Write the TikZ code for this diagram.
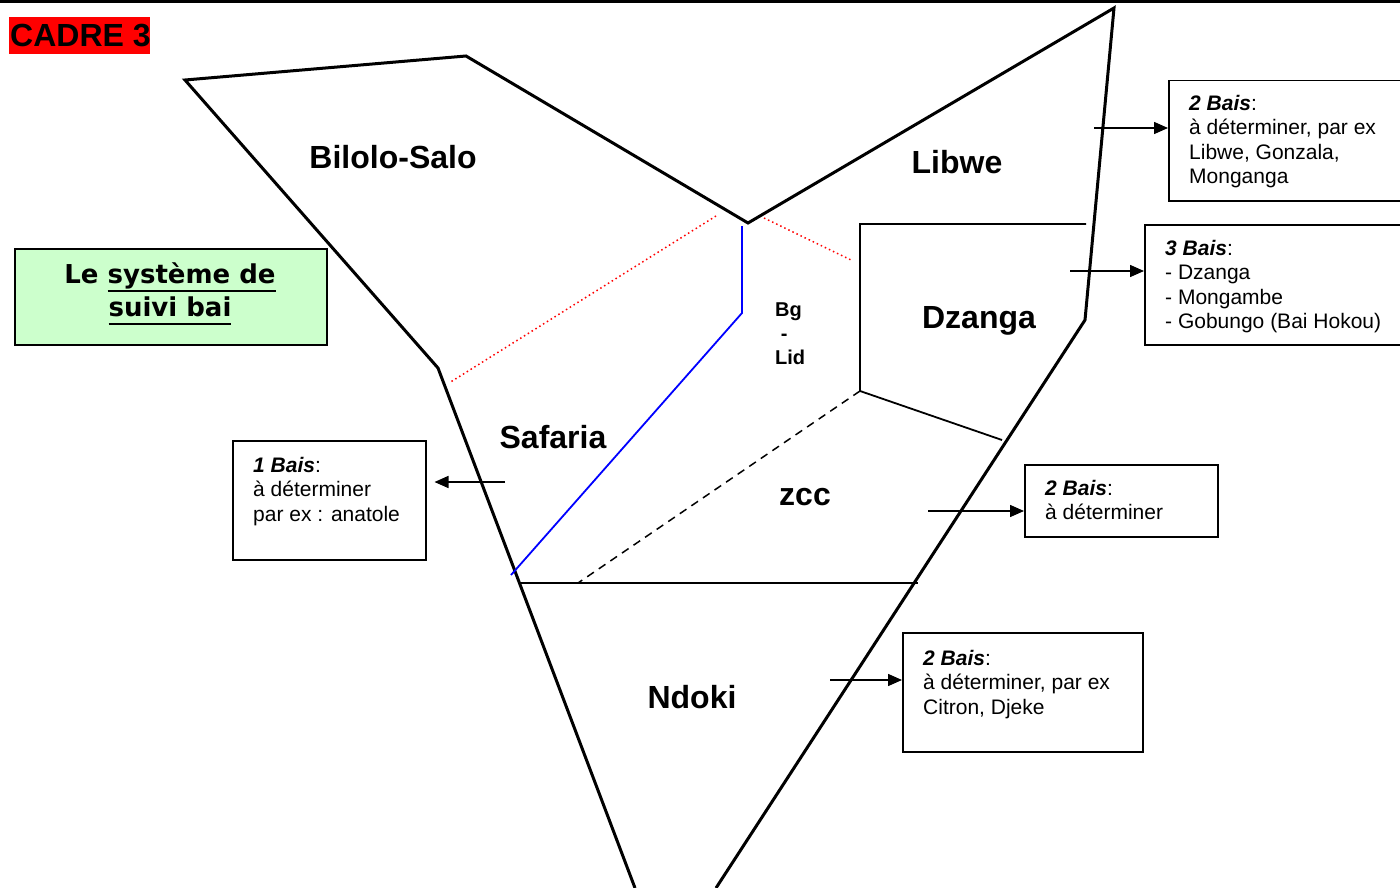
\documentclass[tikz,border=0pt]{standalone}
\usepackage{fontspec}
\setmainfont{Liberation Sans}
\newfontfamily\verd{DejaVu Sans}
\usetikzlibrary{arrows.meta}
\definecolor{cadrered}{RGB}{255,0,0}
\definecolor{palegreen}{RGB}{204,255,204}
\newlength\ulwd
\newcommand\ulword[1]{\settowidth\ulwd{#1}\rlap{\rule[-9pt]{\ulwd}{2pt}}#1}
\begin{document}
\begin{tikzpicture}[x=1pt,y=-1pt,
  border/.style={line width=3pt,line join=miter},
  inner/.style={line width=1.8pt},
  baibox/.style={draw,line width=1.5pt,inner sep=0pt,anchor=north west},
  baitext/.style={align=left,anchor=north west,inner sep=0pt,font=\fontsize{21}{24.5}\selectfont},
  region/.style={anchor=base,inner sep=0pt,font=\fontsize{32}{36}\selectfont\bfseries},
  pointer/.style={-{Triangle[length=14pt,width=12pt]},line width=1.5pt}]
\useasboundingbox (0,0) rectangle (1400,888);
\clip (0,0) rectangle (1400,888);
\fill[white] (0,0) rectangle (1400,888);

% top rule
\draw[line width=3.5pt] (0,1.5) -- (1400,1.5);

% title tag
\node[fill=cadrered,anchor=north west,minimum width=141pt,minimum height=37pt,inner sep=0pt] (tag) at (9,17) {};
\node[anchor=base west,inner sep=0pt,font=\fontsize{32}{36}\selectfont\bfseries] (title) at (10,47) {CADRE 3};

% legend box
\node[baibox,fill=palegreen,line width=2pt,minimum width=312pt,minimum height=96pt] (legend) at (14,248) {};
\node[align=center,inner sep=0pt,anchor=base,font=\verd\fontsize{26}{33}\selectfont\bfseries] (legendtxt) at (170,316)
  {Le \ulword{système de}\\\ulword{suivi bai}};

% zone boundaries
\coordinate (p1) at (185,80);
\coordinate (p2) at (466,56);
\coordinate (v) at (748,223);
\coordinate (p3) at (1114,8);
\coordinate (rk) at (1085,320);
\coordinate (rb) at (716,888);
\coordinate (lk) at (438,368);
\coordinate (lb) at (635,888);
\draw[border] (lb) -- (lk) -- (p1) -- (p2) -- (v) -- (p3) -- (rk) -- (rb);

% Dzanga block
\coordinate (dz1) at (1086,224);
\coordinate (dz2) at (860,224);
\coordinate (dz3) at (860,391);
\coordinate (dz4) at (1002,440);
\draw[inner,line join=miter] (dz1) -- (dz2) -- (dz3) -- (dz4);

% Ndoki limit
\coordinate (nd1) at (520,583);
\coordinate (nd2) at (918,583);
\draw[inner] (nd1) -- (nd2);

% zcc limit
\coordinate (zc) at (578,583);
\draw[line width=1.5pt,dash pattern=on 8pt off 6pt] (dz3) -- (zc);

% blue track
\coordinate (b1) at (742,226);
\coordinate (b2) at (742,313);
\coordinate (b3) at (511,575);
\draw[blue,line width=1.8pt] (b1) -- (b2) -- (b3);

% red dotted limits
\coordinate (r1) at (716,216);
\coordinate (r2) at (449,383);
\coordinate (r3) at (764,218);
\coordinate (r4) at (851,260);
\draw[red,line width=1.5pt,dash pattern=on 1.5pt off 3pt] (r1) -- (r2);
\draw[red,line width=1.5pt,dash pattern=on 1.5pt off 3pt] (r3) -- (r4);

% zone names
\node[region] (bilolo) at (393,168) {Bilolo-Salo};
\node[region] (libwe) at (957,173) {Libwe};
\node[region] (dzanga) at (979,328) {Dzanga};
\node[region] (safaria) at (553,448) {Safaria};
\node[region] (zcc) at (805,505) {zcc};
\node[region] (ndoki) at (692,708) {Ndoki};
\node[align=left,anchor=north west,inner sep=0pt,font=\fontsize{20}{24}\selectfont\bfseries] (bglid) at (775,303)
  {Bg\\\hspace*{5.6pt}-\\Lid};

% bai boxes
\node[baibox,minimum width=240pt,minimum height=120pt] (boxA) at (1168,80) {};
\node[baitext] (txtA) at (1189,95) {\textbf{\textit{2 Bais}}:\\à déterminer, par ex\\Libwe, Gonzala,\\Monganga};

\node[baibox,minimum width=264pt,minimum height=120pt] (boxB) at (1144,224) {};
\node[baitext] (txtB) at (1165,240) {\textbf{\textit{3 Bais}}:\\- Dzanga\\- Mongambe\\- Gobungo (Bai Hokou)};

\node[baibox,minimum width=193pt,minimum height=119pt] (boxC) at (232,440) {};
\node[baitext] (txtC) at (253,457) {\textbf{\textit{1 Bais}}:\\à déterminer\\par ex : anatole};

\node[baibox,minimum width=193pt,minimum height=72pt] (boxD) at (1024,464) {};
\node[baitext] (txtD) at (1045,480) {\textbf{\textit{2 Bais}}:\\à déterminer};

\node[baibox,minimum width=240pt,minimum height=119pt] (boxE) at (902,632) {};
\node[baitext] (txtE) at (923,650) {\textbf{\textit{2 Bais}}:\\à déterminer, par ex\\Citron, Djeke};

% pointers
\coordinate (aA) at (1094,128);
\coordinate (aB) at (1070,271);
\coordinate (aC) at (505,482);
\coordinate (aD) at (928,511);
\coordinate (aE) at (830,680);
\draw[pointer] (aA) -- (boxA.west |- aA);
\draw[pointer] (aB) -- (boxB.west |- aB);
\draw[pointer,shorten >=8pt] (aC) -- (boxC.east |- aC);
\draw[pointer] (aD) -- (boxD.west |- aD);
\draw[pointer] (aE) -- (boxE.west |- aE);
\end{tikzpicture}
\end{document}
